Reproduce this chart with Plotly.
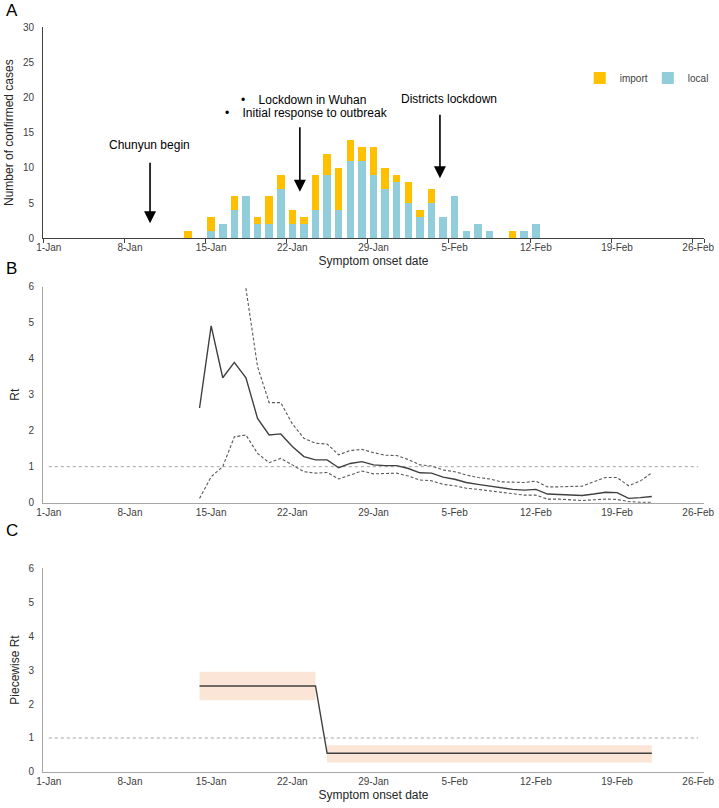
import datetime
import plotly.graph_objects as go

# ---------------- data ----------------
start = datetime.date(2020, 1, 1)
all_dates = [f"{(start + datetime.timedelta(days=i)).day}-{(start + datetime.timedelta(days=i)).strftime('%b')}" for i in range(57)]
tick_labels = ["1-Jan", "8-Jan", "15-Jan", "22-Jan", "29-Jan", "5-Feb", "12-Feb", "19-Feb", "26-Feb"]

# Panel A: confirmed cases by symptom onset date
case_dates = ["13-Jan", "14-Jan", "15-Jan", "16-Jan", "17-Jan", "18-Jan", "19-Jan", "20-Jan", "21-Jan",
              "22-Jan", "23-Jan", "24-Jan", "25-Jan", "26-Jan", "27-Jan", "28-Jan", "29-Jan", "30-Jan",
              "31-Jan", "1-Feb", "2-Feb", "3-Feb", "4-Feb", "5-Feb", "6-Feb", "7-Feb", "8-Feb", "9-Feb",
              "10-Feb", "11-Feb", "12-Feb"]
import_cases = [1, 0, 2, 0, 2, 0, 1, 4, 2, 2, 1, 5, 3, 6, 3, 2, 4, 3, 1, 3, 1, 2, 0, 0, 0, 0, 0, 0, 1, 0, 0]
local_cases = [0, 0, 1, 2, 4, 6, 2, 2, 7, 2, 2, 4, 9, 4, 11, 11, 9, 7, 8, 5, 3, 5, 3, 6, 1, 2, 1, 0, 0, 1, 2]

# Panel B: time-varying Rt with credible interval
rt_dates = ["14-Jan", "15-Jan", "16-Jan", "17-Jan", "18-Jan", "19-Jan", "20-Jan", "21-Jan", "22-Jan",
            "23-Jan", "24-Jan", "25-Jan", "26-Jan", "27-Jan", "28-Jan", "29-Jan", "30-Jan", "31-Jan",
            "1-Feb", "2-Feb", "3-Feb", "4-Feb", "5-Feb", "6-Feb", "7-Feb", "8-Feb", "9-Feb", "10-Feb",
            "11-Feb", "12-Feb", "13-Feb", "14-Feb", "15-Feb", "16-Feb", "17-Feb", "18-Feb", "19-Feb",
            "20-Feb", "21-Feb", "22-Feb"]
rt_mean = [2.63, 4.91, 3.47, 3.90, 3.47, 2.34, 1.88, 1.91, 1.56, 1.28, 1.19, 1.19, 0.97, 1.09, 1.14,
           1.05, 1.03, 1.03, 0.95, 0.83, 0.82, 0.71, 0.65, 0.56, 0.51, 0.46, 0.40, 0.37, 0.35, 0.37,
           0.24, 0.23, 0.20, 0.20, 0.24, 0.29, 0.28, 0.12, 0.14, 0.17]
rt_lower = [0.12, 0.72, 1.00, 1.83, 1.88, 1.37, 1.11, 1.23, 1.05, 0.86, 0.82, 0.84, 0.66, 0.77, 0.88,
            0.80, 0.80, 0.82, 0.74, 0.63, 0.61, 0.51, 0.47, 0.40, 0.37, 0.33, 0.28, 0.23, 0.21, 0.21,
            0.10, 0.10, 0.08, 0.06, 0.08, 0.10, 0.09, 0.03, 0.01, 0.01]
rt_upper = [None, None, None, 9.0, 5.95, 3.78, 2.78, 2.78, 2.19, 1.79, 1.65, 1.63, 1.33, 1.45, 1.48,
            1.39, 1.32, 1.31, 1.20, 1.05, 1.02, 0.91, 0.86, 0.77, 0.70, 0.66, 0.58, 0.57, 0.56, 0.60,
            0.44, 0.44, 0.44, 0.46, 0.58, 0.70, 0.70, 0.47, 0.60, 0.83]

# Panel C: piecewise Rt (two periods)
piece_dates = ["14-Jan", "24-Jan", "25-Jan", "22-Feb"]
piece_rt = [2.53, 2.53, 0.55, 0.55]
piece_lower = [2.11, 2.11, 0.28, 0.28]
piece_upper = [2.95, 2.95, 0.79, 0.79]

threshold_dates = ["1-Jan", "26-Feb"]
threshold_rt = [1, 1]

# ---------------- styling ----------------
ORANGE = "#FFC000"
BLUE = "#92CDDC"
FONT = "Liberation Sans, Arial, sans-serif"

fig = go.Figure()

# Panel A bars
fig.add_trace(go.Bar(x=case_dates, y=local_cases, name="local", marker_color=BLUE,
                     marker_line_width=0, legend="legend2", xaxis="x", yaxis="y"))
fig.add_trace(go.Bar(x=case_dates, y=import_cases, name="import", marker_color=ORANGE,
                     marker_line_width=0, legend="legend", xaxis="x", yaxis="y"))

# Panel B lines
fig.add_trace(go.Scatter(x=threshold_dates, y=threshold_rt, mode="lines", showlegend=False,
                         line=dict(color="#8c8c8c", width=0.8, dash="dot"), xaxis="x2", yaxis="y2"))
fig.add_trace(go.Scatter(x=rt_dates, y=rt_upper, mode="lines", showlegend=False,
                         line=dict(color="#595959", width=1.1, dash="3px,2px"), xaxis="x2", yaxis="y2"))
fig.add_trace(go.Scatter(x=rt_dates, y=rt_lower, mode="lines", showlegend=False,
                         line=dict(color="#595959", width=1.1, dash="3px,2px"), xaxis="x2", yaxis="y2"))
fig.add_trace(go.Scatter(x=rt_dates, y=rt_mean, mode="lines", showlegend=False,
                         line=dict(color="#404040", width=1.4), xaxis="x2", yaxis="y2"))

# Panel C band + line
for seg in (slice(0, 2), slice(2, 4)):
    fig.add_trace(go.Scatter(x=piece_dates[seg], y=piece_lower[seg], mode="lines", showlegend=False,
                             line=dict(width=0, color="#FBE5D6"), xaxis="x3", yaxis="y3"))
    fig.add_trace(go.Scatter(x=piece_dates[seg], y=piece_upper[seg], mode="lines", showlegend=False,
                             fill="tonexty", fillcolor="#FBE5D6",
                             line=dict(width=0, color="#FBE5D6"), xaxis="x3", yaxis="y3"))
fig.add_trace(go.Scatter(x=threshold_dates, y=threshold_rt, mode="lines", showlegend=False,
                         line=dict(color="#8c8c8c", width=0.8, dash="dot"), xaxis="x3", yaxis="y3"))
fig.add_trace(go.Scatter(x=piece_dates, y=piece_rt, mode="lines", showlegend=False,
                         line=dict(color="#404040", width=1.4), xaxis="x3", yaxis="y3"))

def xaxis_style(anchor, linecolor, ticks, title=None):
    d = dict(anchor=anchor, domain=[0, 1], type="category", categoryorder="array",
             categoryarray=all_dates, range=[-0.5, 56.5], tickmode="array",
             tickvals=tick_labels, ticktext=tick_labels, tickson="boundaries", tickangle=0,
             ticks=ticks, ticklen=4, tickcolor=linecolor, showline=True, linecolor=linecolor,
             linewidth=1, showgrid=False, zeroline=False, automargin=False,
             tickfont=dict(size=10, color="#404040"))
    if title:
        d["title"] = dict(text=title, font=dict(size=12, color="#262626"), standoff=4)
    return d

def yaxis_style(anchor, domain, rng, dtick, linecolor, title):
    return dict(anchor=anchor, domain=domain, range=rng, dtick=dtick, tick0=0, showline=True,
                linecolor=linecolor, linewidth=1, ticks="", showgrid=False, zeroline=False,
                automargin=False, ticklabelstandoff=6, tickfont=dict(size=10, color="#404040"),
                title=dict(text=title, font=dict(size=12, color="#262626"), standoff=6))

legend_common = dict(orientation="h", y=0.9315, xanchor="left", yanchor="middle",
                     itemwidth=30, font=dict(size=10, color="#404040"), bgcolor="rgba(0,0,0,0)")

fig.update_layout(
    width=719, height=808,
    margin=dict(l=43, r=15, t=27, b=36, autoexpand=False),
    paper_bgcolor="white", plot_bgcolor="white",
    font=dict(family=FONT, color="#262626"),
    barmode="stack", bargap=0.35,
    showlegend=True,
    legend=dict(x=0.812, **legend_common),
    legend2=dict(x=0.915, **legend_common),
    xaxis=xaxis_style("y", "#404040", "outside", "Symptom onset date"),
    yaxis=yaxis_style("x", [0.7164, 1.0], [0, 30], 5, "#404040", "Number of confirmed cases"),
    xaxis2=xaxis_style("y2", "#a6a6a6", ""),
    yaxis2=yaxis_style("x2", [0.3615, 0.6514], [0, 6], 1, "#a6a6a6", "Rt"),
    xaxis3=xaxis_style("y3", "#a6a6a6", "", "Symptom onset date"),
    yaxis3=yaxis_style("x3", [0.0, 0.2738], [0, 6], 1, "#a6a6a6", "Piecewise Rt"),
)

annotations = []
# panel letters
for letter, yp in (("A", 1.0228), ("B", 0.6765), ("C", 0.3248)):
    annotations.append(dict(text=letter, xref="paper", yref="paper", x=-0.047, y=yp,
                            xanchor="center", yanchor="middle", showarrow=False,
                            font=dict(size=17, color="#000000")))

# event arrows (panel A)
event_arrows = [(8.73, 2.13, -62), (21.65, 6.62, -66), (33.73, 8.52, -65)]
for ex, ey, ay in event_arrows:
    annotations.append(dict(text="", x=ex, y=ey, xref="x", yref="y", showarrow=True,
                            arrowhead=2, arrowsize=1.5, arrowwidth=1.6, arrowcolor="#000000",
                            ax=0, ay=ay))

event_texts = [
    ("Chunyun begin", 8.65, 13.25, "center", 12),
    ("•\u00a0\u00a0\u00a0\u00a0Lockdown in Wuhan", 16.44, 19.64, "left", 12),
    ("•\u00a0\u00a0\u00a0\u00a0Initial response to outbreak", 14.99, 17.8, "left", 12),
    ("Districts lockdown", 34.5, 19.79, "center", 12),
]
for txt, tx, ty, anc, fs in event_texts:
    annotations.append(dict(text=txt, x=tx, y=ty, xref="x", yref="y", showarrow=False,
                            xanchor=anc, yanchor="middle", font=dict(size=fs, color="#000000")))

fig.update_layout(annotations=annotations)

fig.write_html("out.html", config={"displayModeBar": False},
               post_script="document.body.style.margin='0px';")
